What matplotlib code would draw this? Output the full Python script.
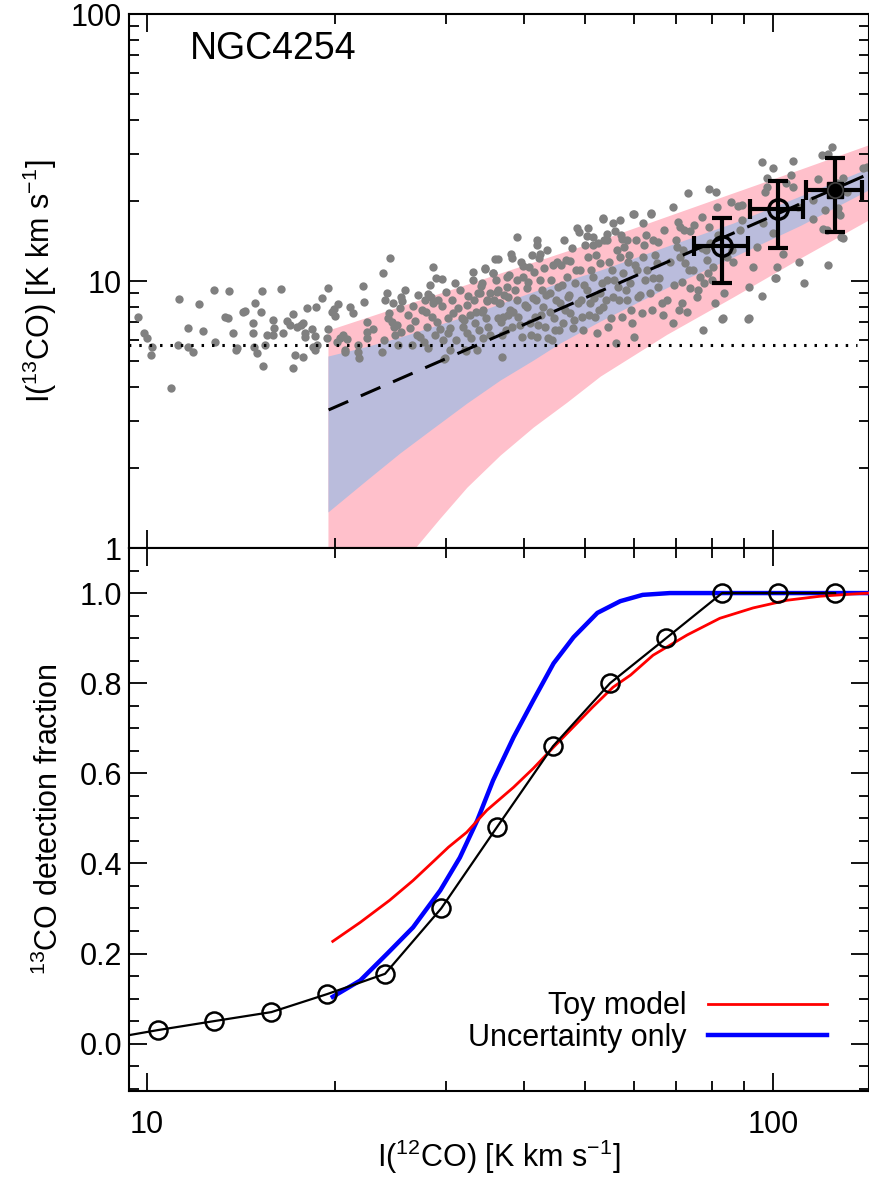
import matplotlib
matplotlib.use('Agg')
import matplotlib.pyplot as plt
from matplotlib.ticker import MultipleLocator, LogLocator, NullFormatter, FormatStrFormatter
from matplotlib.lines import Line2D
import numpy as np

plt.rcParams['font.family'] = ['Liberation Sans', 'DejaVu Sans']
plt.rcParams['mathtext.fontset'] = 'custom'
plt.rcParams['mathtext.rm'] = 'Liberation Sans'
plt.rcParams['mathtext.it'] = 'Liberation Sans:italic'
plt.rcParams['mathtext.default'] = 'regular'

# pixel-by-pixel (log10) values: log I(12CO), log I(13CO)
log_i12 = [
    0.986, 0.995, 1.000, 1.008, 1.006, 1.038, 1.051, 1.050, 1.065, 1.065, 1.073, 1.083, 1.089,
    1.107, 1.109, 1.125, 1.129, 1.131, 1.137, 1.142, 1.144, 1.153, 1.157, 1.169, 1.169, 1.173,
    1.171, 1.176, 1.182, 1.184, 1.185, 1.188, 1.192, 1.201, 1.201, 1.203, 1.214, 1.217, 1.224,
    1.228, 1.233, 1.233, 1.236, 1.240, 1.246, 1.249, 1.249, 1.252, 1.252, 1.256, 1.264, 1.265,
    1.268, 1.270, 1.272, 1.280, 1.288, 1.289, 1.289, 1.296, 1.299, 1.300, 1.305, 1.308, 1.304,
    1.313, 1.316, 1.324, 1.319, 1.329, 1.337, 1.337, 1.339, 1.345, 1.347, 1.351, 1.351, 1.351,
    1.361, 1.375, 1.377, 1.383, 1.387, 1.388, 1.391, 1.393, 1.395, 1.399, 1.404, 1.406, 1.407,
    1.406, 1.425, 1.428, 1.431, 1.436, 1.444, 1.446, 1.447, 1.449, 1.454, 1.455, 1.457, 1.457,
    1.462, 1.463, 1.468, 1.471, 1.471, 1.473, 1.476, 1.481, 1.484, 1.489, 1.492, 1.503, 1.505,
    1.508, 1.511, 1.511, 1.516, 1.521, 1.521, 1.524, 1.527, 1.529, 1.535, 1.537, 1.540, 1.543,
    1.545, 1.548, 1.553, 1.559, 1.561, 1.561, 1.562, 1.567, 1.567, 1.575, 1.577,
    1.268, 1.316, 1.474, 1.510,
    1.540, 1.556, 1.553, 1.581, 1.583, 1.591, 1.601, 1.610, 1.623, 1.623, 1.628, 1.626, 1.649,
    1.661, 1.666, 1.676, 1.687, 1.690, 1.704, 1.703, 1.712, 1.712, 1.720, 1.728, 1.735, 1.735,
    1.744, 1.748, 1.756, 1.759, 1.762, 1.767, 1.776, 1.781, 1.792, 1.797, 1.805, 1.808, 1.816,
    1.840, 1.848, 1.851, 1.864, 1.858, 1.867, 1.887, 1.898, 1.909, 1.898, 1.911, 1.933, 1.944,
    1.950, 1.982, 2.000, 1.990, 1.990, 1.987, 2.032, 2.029, 2.032, 2.021, 2.040, 2.064, 2.072,
    2.078, 2.088, 2.094, 2.083, 2.104, 2.107, 2.080, 2.086, 2.111, 2.144, 2.150, 2.118, 2.111,
    1.532, 1.537, 1.543, 1.561, 1.564, 1.569, 1.575, 1.577, 1.580, 1.583, 1.591, 1.591, 1.593,
    1.599, 1.601, 1.607, 1.607, 1.612, 1.617, 1.620, 1.623, 1.628, 1.631, 1.633, 1.636, 1.644,
    1.644, 1.647, 1.652, 1.657, 1.660, 1.665, 1.671, 1.673, 1.676, 1.681, 1.684, 1.688, 1.692,
    1.695, 1.696, 1.703, 1.704, 1.708, 1.712, 1.716, 1.719, 1.724, 1.724, 1.728, 1.735, 1.736,
    1.743, 1.744, 1.749, 1.752, 1.756, 1.759, 1.760, 1.767, 1.768, 1.772, 1.775, 1.778, 1.783,
    1.784, 1.791, 1.792, 1.796, 1.799, 1.803, 1.807, 1.808, 1.815, 1.816, 1.823, 1.824, 1.840,
    1.847, 1.851, 1.855, 1.855, 1.859, 1.863, 1.867, 1.872, 1.879, 1.883, 1.887, 1.888, 1.890,
    1.895, 1.896, 1.899, 1.904, 1.907, 1.920, 1.922, 1.927, 1.935, 1.936, 1.947, 1.950, 1.962,
    1.962, 1.968, 1.974, 1.982, 1.984, 2.000, 2.005, 2.006, 2.016, 2.042, 2.050, 2.064, 2.088,
    2.104, 2.102,
    1.728, 1.778, 1.805, 1.919, 1.960, 2.003, 2.109,
    1.380, 1.385, 1.396, 1.412, 1.417, 1.420, 1.433, 1.439, 1.442, 1.452, 1.460, 1.465, 1.478,
    1.481, 1.487, 1.494, 1.497, 1.500, 1.506, 1.513, 1.518, 1.522, 1.526, 1.530, 1.534, 1.379,
    1.401, 1.423, 1.449, 1.484,
    1.535, 1.542, 1.548, 1.554, 1.557, 1.565, 1.570, 1.573, 1.578, 1.585, 1.588, 1.596, 1.597,
    1.604, 1.609, 1.613, 1.618, 1.621, 1.625, 1.629, 1.634, 1.637, 1.641, 1.645, 1.650, 1.653,
    1.655, 1.658, 1.639, 1.615,
    1.663, 1.668, 1.669, 1.674, 1.679, 1.682, 1.685, 1.693, 1.698, 1.700, 1.706, 1.709, 1.714,
    1.717, 1.722, 1.727, 1.730, 1.733, 1.738, 1.741, 1.746, 1.751, 1.754, 1.757, 1.765, 1.770,
    1.773, 1.780, 1.788, 1.794,
    1.811, 1.818, 1.826, 1.831, 1.835, 1.842, 1.845, 1.850, 1.856, 1.866, 1.874, 1.880, 1.893,
    1.903, 1.912,
]
log_i13 = [
    0.865, 0.805, 0.786, 0.753, 0.723, 0.599, 0.932, 0.760, 0.824, 0.753, 0.734, 0.914, 0.813,
    0.966, 0.771, 0.865, 0.861, 0.962, 0.805, 0.742, 0.749, 0.884, 0.888, 0.843, 0.805, 0.918,
    0.753, 0.730, 0.884, 0.962, 0.682, 0.760, 0.798, 0.798, 0.854, 0.824, 0.970, 0.805, 0.850,
    0.835, 0.876, 0.674, 0.723, 0.828, 0.835, 0.843, 0.715, 0.805, 0.790, 0.899, 0.820, 0.753,
    0.794, 0.903, 0.760, 0.936, 0.786, 0.974, 0.820, 0.884, 0.895, 0.869, 0.914, 0.786, 0.771,
    0.798, 0.742, 0.903, 0.783, 0.880, 0.760, 0.734, 0.712, 0.981, 0.921, 0.846, 0.809, 0.786,
    0.820, 0.734, 1.030, 0.955, 0.880, 1.086, 0.846, 0.918, 0.828, 0.835, 0.899, 0.940, 0.925,
    0.809, 0.906, 0.850, 0.798, 0.790, 0.929, 0.884, 0.828, 0.951, 0.940, 0.865, 1.052, 0.918,
    1.011, 0.846, 0.820, 1.007, 0.906, 0.779, 0.712, 0.805, 0.824, 0.880, 0.992, 0.861, 0.828,
    0.742, 0.910, 0.805, 0.873, 1.034, 1.004, 0.843, 0.742, 0.955, 0.884, 0.786, 1.045, 0.925,
    0.828, 0.955, 1.030, 0.959, 1.082, 0.861, 0.918, 0.715, 0.798, 1.015, 0.873,
    0.742, 0.734, 0.708, 0.738,
    1.049, 1.082, 1.030, 1.101, 1.086, 1.165, 1.056, 1.052, 1.153, 1.135, 1.101, 1.086, 1.060,
    1.060, 1.153, 1.075, 1.198, 1.183, 1.198, 1.168, 1.165, 1.135, 1.142, 1.232, 1.153, 1.176,
    1.217, 1.187, 1.228, 1.157, 1.127, 1.153, 1.251, 1.153, 1.217, 1.172, 1.251, 1.153, 1.146,
    1.277, 1.221, 1.202, 1.329, 1.191, 1.187, 1.240, 1.344, 1.333, 1.202, 1.277, 1.296, 1.281,
    1.285, 1.446, 1.423, 1.386, 1.352, 1.333, 1.449, 1.397, 1.352, 1.367, 1.277, 1.232, 1.382,
    1.472, 1.476, 1.502, 1.266, 1.273, 1.247, 1.195, 1.191, 1.161, 1.423, 1.427, 1.333, 1.386,
    0.955, 0.891, 0.929, 0.966, 0.918, 0.865, 0.977, 0.940, 0.891, 0.828, 1.004, 0.929, 0.865,
    0.790, 1.015, 0.974, 0.903, 0.843, 0.936, 0.865, 0.790, 1.004, 0.966, 0.903, 0.828, 0.955,
    0.884, 0.779, 0.816, 0.977, 0.918, 0.843, 1.015, 0.940, 0.880, 0.824, 0.992, 0.918, 1.041,
    0.865, 0.816, 0.966, 1.090, 0.918, 1.015, 0.865, 0.805, 1.067, 0.955, 0.903, 1.004, 0.828,
    1.041, 0.940, 0.768, 0.977, 1.090, 0.865, 1.030, 0.929, 1.071, 0.992, 0.843, 0.790, 1.041,
    0.940, 0.880, 1.090, 1.004, 1.041, 0.955, 0.891, 1.011, 1.067, 0.977, 0.918, 0.873, 0.843,
    1.127, 1.090, 0.996, 0.918, 1.067, 0.884, 0.974, 1.041, 0.940, 1.015, 1.124, 0.816, 0.992,
    1.079, 1.030, 1.142, 1.052, 0.918, 0.861, 0.955, 1.090, 1.116, 1.071, 1.191, 1.228, 0.977,
    0.861, 1.052, 1.127, 0.944, 1.217, 1.180, 1.011, 1.052, 1.101, 1.071, 0.992, 1.303, 1.060,
    1.255, 1.367,
    1.236, 1.251, 1.255, 0.858, 0.858, 1.011, 1.165,
    0.929, 0.861, 0.798, 0.966, 0.873, 0.824, 0.947, 0.891, 0.771, 0.985, 0.798, 0.929, 0.959,
    0.861, 0.929, 0.779, 0.899, 0.966, 0.854, 0.944, 0.786, 0.929, 0.884, 0.816, 0.981, 0.779,
    0.760, 0.760, 0.749, 0.742,
    0.992, 0.861, 0.798, 0.929, 1.004, 0.846, 0.947, 0.816, 1.022, 0.884, 0.966, 0.835, 1.071,
    0.910, 0.996, 0.798, 1.034, 0.929, 0.835, 0.873, 1.049, 0.947, 0.786, 1.004, 0.861, 0.929,
    1.071, 0.816, 1.116, 1.097,
    0.985, 0.891, 1.079, 0.947, 1.124, 0.854, 1.041, 0.929, 0.985, 1.135, 0.873, 1.041, 0.936,
    1.097, 0.891, 0.992, 1.153, 0.929, 1.071, 0.861, 1.004, 1.116, 0.929, 1.172, 0.966, 1.097,
    0.891, 1.060, 0.947, 1.135,
    1.097, 1.011, 1.191, 0.929, 1.071, 0.985, 1.153, 0.891, 1.116, 1.041, 1.210, 0.966, 1.116,
    1.004, 1.172,
]

# binned points with error bars
bin_x = [82.9, 101.9, 125.6]
bin_y = [13.5, 18.6, 21.9]
bin_xlo = [74.8, 91.8, 112.9]
bin_xhi = [91.2, 111.6, 138.6]
bin_ylo = [9.84, 13.3, 15.3]
bin_yhi = [17.2, 23.7, 28.9]

# model bands (log10 values)
pink_lx = [1.289, 1.351, 1.400, 1.428, 1.468, 1.511, 1.564, 1.617, 1.671, 1.724, 1.830,
           1.936, 2.045, 2.176]
pink_lo = [-0.75, -0.35, -0.10, 0.000, 0.112, 0.228, 0.348, 0.453, 0.547, 0.644, 0.800,
           0.940, 1.088, 1.260]
pink_hi = [0.816, 0.864, 0.902, 0.924, 0.955, 0.988, 1.030, 1.071, 1.113, 1.154, 1.242,
           1.330, 1.420, 1.530]
blue_lx = [1.289, 1.351, 1.404, 1.457, 1.511, 1.564, 1.617, 1.660, 1.724, 1.830, 1.936,
           2.045, 2.176]
blue_lo = [0.135, 0.255, 0.356, 0.449, 0.543, 0.629, 0.704, 0.768, 0.850, 0.975, 1.090,
           1.210, 1.370]
blue_hi = [0.719, 0.755, 0.790, 0.830, 0.870, 0.915, 0.960, 0.995, 1.041, 1.130, 1.217,
           1.320, 1.445]

ratio_x = [19.5, 150.0]
ratio_y = [3.29, 26.6]
noise_level = 5.75
noise_x = [9.0, 136.0]

# detection fraction panel
frac_x = [8.45, 10.4, 12.8, 15.8, 19.4, 24.0, 29.5, 36.2, 44.5, 54.9, 67.5, 82.9, 101.9, 125.6]
frac_y = [0.008, 0.03, 0.05, 0.07, 0.11, 0.155, 0.30, 0.48, 0.66, 0.80, 0.90, 1.0, 1.0, 1.0]

toy_x = [19.8, 21.9, 24.4, 26.6, 28.8, 30.3, 32.4, 34.9, 38.5, 41.4, 44.6, 48.6, 51.5, 55.5,
         59.2, 64.3, 72.9, 82.2, 92.9, 105.2, 118.9, 134.3, 142.9]
toy_y = [0.227, 0.269, 0.318, 0.362, 0.407, 0.436, 0.469, 0.518, 0.569, 0.611, 0.658, 0.711,
         0.747, 0.791, 0.818, 0.862, 0.907, 0.944, 0.967, 0.984, 0.993, 0.998, 1.0]

unc_x = [19.8, 21.9, 24.2, 26.6, 29.4, 31.6, 33.7, 35.7, 38.5, 41.4, 44.6, 48.0, 52.4, 57.0,
         61.9, 68.4, 76.4, 142.9]
unc_y = [0.104, 0.140, 0.200, 0.258, 0.340, 0.413, 0.496, 0.584, 0.680, 0.762, 0.844, 0.902,
         0.956, 0.982, 0.996, 1.0, 1.0, 1.0]

fig = plt.figure(figsize=(8.7, 11.78), dpi=100)
ax1 = fig.add_axes([0.1483, 0.5348, 0.8506, 0.4533])
ax2 = fig.add_axes([0.1483, 0.0739, 0.8506, 0.4609], sharex=ax1)

# top panel
ax1.fill_between(10 ** np.array(pink_lx), 10 ** np.array(pink_lo), 10 ** np.array(pink_hi),
                 color='#ffc0cb', lw=0, zorder=1)
ax1.fill_between(10 ** np.array(blue_lx), 10 ** np.array(blue_lo), 10 ** np.array(blue_hi),
                 color='#babcdc', lw=0, zorder=1.5)
ax1.scatter(10 ** np.array(log_i12), 10 ** np.array(log_i13), s=36, c='#808080',
            linewidths=0, zorder=2)
ax1.plot(ratio_x, ratio_y, color='k', lw=2.2, dashes=(7, 4.5), zorder=4)
ax1.plot(noise_x, [noise_level, noise_level], color='k', lw=2.2, dashes=(0.8, 2.6), zorder=4)

bx = np.array(bin_x)
by = np.array(bin_y)
ax1.errorbar(bx, by, xerr=[bx - np.array(bin_xlo), np.array(bin_xhi) - bx],
             yerr=[by - np.array(bin_ylo), np.array(bin_yhi) - by],
             fmt='none', ecolor='k', elinewidth=3.0, capsize=7, capthick=3.0, zorder=5)
ax1.plot(bin_x[:2], bin_y[:2], 'o', ms=14, mfc='none', mec='k', mew=2.4, zorder=6)
ax1.plot(bin_x[2:], bin_y[2:], 's', ms=12, color='k', zorder=6)
ax1.plot(bin_x[2:], bin_y[2:], 'o', ms=11, mfc='none', mec='#404040', mew=1.2, zorder=6)

ax1.set_xscale('log')
ax1.set_yscale('log')
ax1.set_xlim(9.36, 142.3)
ax1.set_ylim(1, 100)
ax1.set_yticks([1, 10, 100])
ax1.set_yticklabels(['1', '10', '100'])
ax1.yaxis.set_minor_locator(LogLocator(subs=np.arange(2, 10)))
ax1.yaxis.set_minor_formatter(NullFormatter())
ax1.set_ylabel(r'I($^{13}$CO) [K km s$^{-1}$]', fontsize=22)
ax1.yaxis.set_label_coords(-0.095, 0.5)
ax1.text(0.082, 0.935, 'NGC4254', transform=ax1.transAxes, fontsize=27, va='center')
ax1.tick_params(labelbottom=False)

# bottom panel
ax2.plot(unc_x, unc_y, color='#0000ff', lw=3.2, zorder=3)
ax2.plot(toy_x, toy_y, color='#ff0000', lw=2.0, zorder=4)
ax2.plot(frac_x, frac_y, color='k', lw=1.6, marker='o', ms=13, mfc='none', mec='k',
         mew=1.8, zorder=5)
ax2.set_ylim(-0.105, 1.1)
ax2.yaxis.set_major_locator(MultipleLocator(0.2))
ax2.yaxis.set_minor_locator(MultipleLocator(0.05))
ax2.yaxis.set_major_formatter(FormatStrFormatter('%.1f'))
ax2.set_xticks([10, 100])
ax2.set_xticklabels(['10', '100'])
ax2.xaxis.set_minor_locator(LogLocator(subs=np.arange(2, 10)))
ax2.xaxis.set_minor_formatter(NullFormatter())
ax2.set_xlim(9.36, 142.3)
ax2.set_ylabel(r'$^{13}$CO detection fraction', fontsize=22)
ax2.yaxis.set_label_coords(-0.086, 0.5)
ax2.set_xlabel(r'I($^{12}$CO) [K km s$^{-1}$]', fontsize=22)
ax2.xaxis.set_label_coords(0.5, -0.086)

handles = [Line2D([], [], color='#ff0000', lw=2.0), Line2D([], [], color='#0000ff', lw=3.2)]
ax2.legend(handles, ['Toy model', 'Uncertainty only'], loc='lower right',
           bbox_to_anchor=(0.943, 0.07), frameon=False, markerfirst=False, fontsize=22,
           handlelength=3.9, handletextpad=0.7, labelspacing=0.05, borderpad=0,
           borderaxespad=0)

for ax in (ax1, ax2):
    ax.tick_params(which='both', direction='in', top=True, right=True, width=1.3,
                   labelsize=22)
    ax.tick_params(which='major', length=13, pad=5)
    ax.tick_params(which='minor', length=7)
    for sp in ax.spines.values():
        sp.set_linewidth(1.5)
ax2.tick_params(axis='x', which='major', pad=14)

fig.savefig('out.png', dpi=100)
